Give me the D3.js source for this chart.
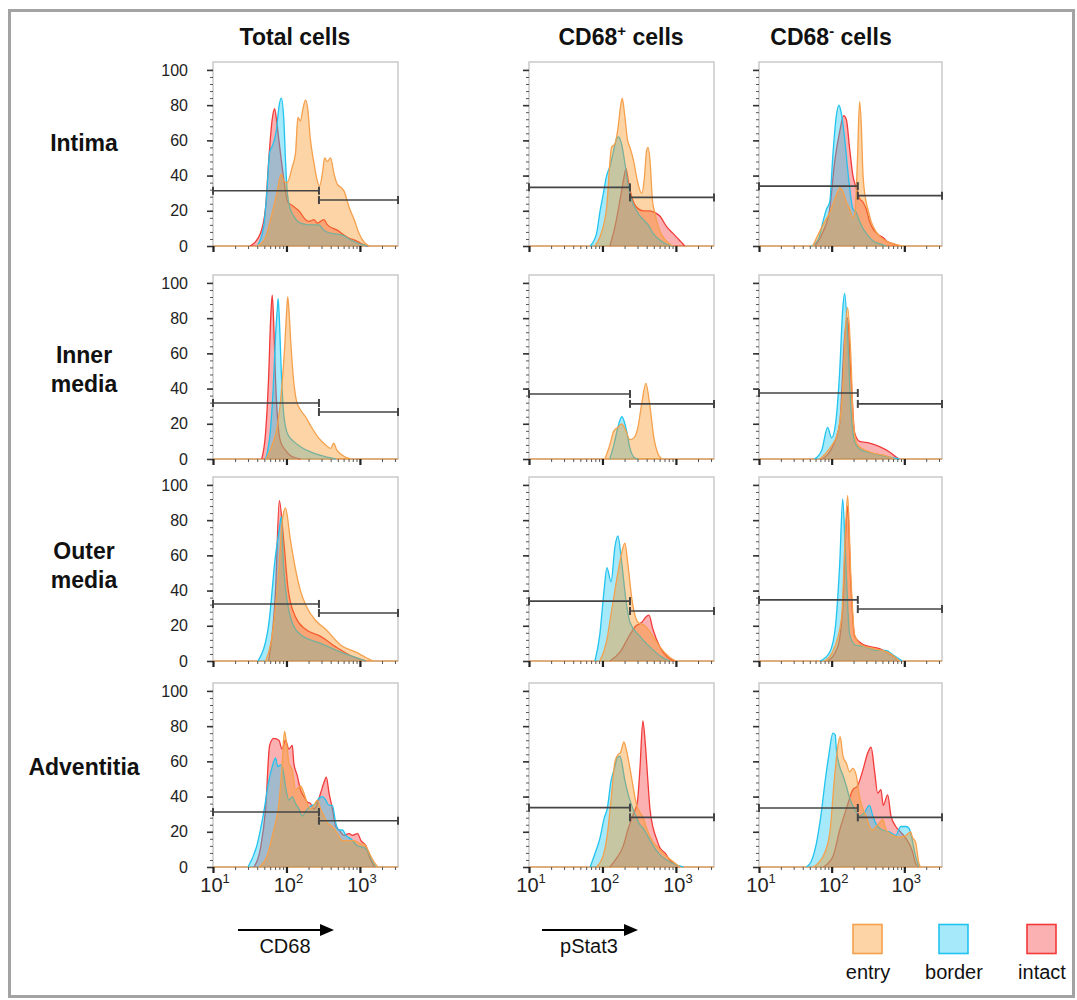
<!DOCTYPE html>
<html>
<head>
<meta charset="utf-8">
<script src="https://cdn.jsdelivr.net/npm/d3@7"></script>
<style>
  body { margin: 0; background: #fff; }
  svg { font-family: "Liberation Sans", Arial, sans-serif; }
</style>
</head>
<body>
<svg id="chart" width="1077" height="1000"></svg>
<script>
// each series: [fluorescence intensity, % of max]
// row 1 - Intima
const intimaTotalEntry = [[40,0],[52,5],[64,19],[74,30],[85,41],[92,37],[102,36],[120,45],[133,53],[143,73],[155,71],[166,77],[182,83],[196,77],[210,62],[237,47],[263,37],[282,34],[308,41],[331,50],[361,48],[398,50],[444,41],[494,35],[561,33],[610,31],[713,22],[835,15],[977,7],[1148,2],[1343,0]];
const intimaTotalBorder = [[40,0],[49,11],[54,30],[59,53],[66,58],[73,66],[79,79],[85,84],[92,72],[97,49],[102,32],[111,22],[126,17],[155,13],[210,12],[275,12],[324,9],[427,7],[550,6.5],[759,3.4],[1030,1],[1274,0]];
const intimaTotalIntact = [[32,0],[44,7],[52,22],[57,47],[64,72],[69,78],[74,70],[79,60],[92,38],[104,25],[120,23],[155,19],[173,16],[202,14],[237,15],[263,13],[324,15],[361,12],[490,9],[676,5],[933,2.5],[1150,0.5],[1300,0]];

const intimaPosEntry = [[79,0],[92,5],[114,22],[133,56],[148,58],[164,68],[176,79],[186,84],[200,75],[220,60],[237,56],[263,49],[299,37],[341,30],[373,39],[398,54],[418,56],[443,49],[479,26],[516,19],[575,11],[671,5],[828,1],[919,0]];
const intimaPosBorder = [[68,0],[83,7],[92,19],[103,30],[114,40],[126,45],[140,53],[156,61],[167,62],[182,58],[202,47],[225,34],[250,26],[292,20],[324,17],[359,15],[420,12],[491,7],[604,3.4],[746,1],[919,0]];
const intimaPosIntact = [[126,0],[148,11],[173,26],[196,39],[209,44],[225,37],[250,28],[292,22],[359,20],[443,20],[516,19],[604,17],[746,11],[919,7],[1133,3],[1258,1],[1320,0]];

const intimaNegEntry = [[55,0],[76,12],[94,19],[116,29],[129,33],[143,31],[159,25],[177,21],[196,16],[209,19],[226,48],[242,82],[255,70],[269,42],[292,27],[315,21],[349,14],[410,8],[505,4],[693,1.3],[950,0]];
const intimaNegBorder = [[53,0],[66,4],[76,14],[85,21],[94,25],[104,52],[116,74],[126,80],[135,76],[151,61],[162,48],[177,33],[196,21],[218,19],[242,14],[269,10],[315,6],[368,3],[455,1.3],[562,0]];
const intimaNegIntact = [[59,0],[76,8],[94,21],[110,48],[129,65],[146,74],[159,72],[177,55],[196,40],[218,33],[242,27],[269,25],[299,21],[332,14],[368,10],[455,6],[505,5],[562,3],[693,1.3],[855,0]];

// row 2 - Inner media
const innerTotalEntry = [[53,0],[64,8],[76,20],[86,40],[95,65],[101,85],[104,92],[108,85],[115,65],[125,45],[137,33],[155,28],[182,24],[213,19],[274,12],[342,8],[400,6],[440,9],[485,5],[643,1],[753,0]];
const innerTotalBorder = [[52,0],[60,15],[66,40],[71,70],[75,85],[77,91],[80,80],[85,50],[92,25],[104,14],[125,10],[155,7],[213,4],[292,2],[468,0]];
const innerTotalIntact = [[46,0],[52,15],[57,45],[61,80],[64,93],[67,78],[71,45],[76,22],[83,10],[97,5],[113,2],[155,0]];

const innerPosEntry = [[108,0],[126,8],[143,16],[162,18],[184,20],[208,16],[237,11],[268,12],[304,18],[344,32],[390,43],[443,30],[501,12],[569,3],[645,0]];
const innerPosBorder = [[126,0],[143,8],[162,18],[184,24],[208,18],[237,6],[268,1],[304,0]];
const innerPosIntact = [];

const innerNegEntry = [[69,0],[94,6],[121,15],[142,40],[155,75],[166,86],[183,60],[200,20],[227,8],[331,4],[532,2],[729,0]];
const innerNegBorder = [[58,0],[73,5],[88,18],[100,12],[113,20],[129,50],[142,85],[151,94],[166,70],[183,30],[207,10],[258,5],[389,3],[624,1],[853,0]];
const innerNegIntact = [[73,0],[100,6],[129,20],[151,70],[166,80],[183,50],[207,15],[242,10],[331,9],[455,7],[624,4],[778,1],[853,0]];

// row 3 - Outer media
const outerTotalEntry = [[52,0],[64,15],[78,50],[88,80],[97,87],[113,69],[133,52],[155,40],[182,32],[250,23],[342,18],[549,9],[881,5],[1206,2],[1513,0]];
const outerTotalBorder = [[41,0],[57,20],[71,60],[80,75],[85,82],[91,55],[113,25],[155,15],[292,10],[549,5],[1033,1],[1206,0]];
const outerTotalIntact = [[57,0],[71,40],[80,91],[91,70],[106,40],[133,25],[182,18],[292,14],[470,8],[753,3],[1206,0]];

const outerPosEntry = [[92,0],[112,10],[135,30],[162,50],[184,62],[202,67],[222,55],[252,35],[304,22],[378,20],[471,15],[604,8],[828,2],[1000,0]];
const outerPosBorder = [[79,0],[92,15],[105,40],[115,53],[131,45],[148,65],[162,71],[184,55],[208,35],[237,22],[324,14],[443,8],[604,3],[828,0]];
const outerPosIntact = [[126,0],[173,5],[237,15],[286,20],[344,22],[390,25],[429,26],[486,18],[604,8],[776,2],[969,0]];

const outerNegEntry = [[80,0],[110,8],[137,25],[155,75],[166,94],[183,50],[207,15],[258,9],[389,7],[585,5],[753,2],[853,0]];
const outerNegBorder = [[69,0],[94,5],[113,20],[129,55],[142,92],[155,60],[177,15],[213,9],[292,8],[400,6],[549,6],[729,3],[940,0]];
const outerNegIntact = [[88,0],[121,8],[142,30],[155,70],[166,88],[183,45],[207,14],[283,9],[455,7],[685,3],[853,0]];

// row 4 - Adventitia
const adventTotalEntry = [[42,0],[54,6],[67,21],[79,36],[87,57],[94,77],[100,71],[108,59],[120,55],[133,44],[155,46],[173,42],[192,36],[213,33],[237,35],[263,38],[292,33],[324,29],[361,25],[422,23],[494,19],[579,15],[677,15],[836,15],[1033,13],[1148,13],[1274,10],[1415,6],[1604,2],[1746,0]];
const adventTotalBorder = [[30,0],[40,13],[49,31],[57,48],[64,57],[71,62],[76,57],[83,58],[90,55],[97,46],[108,38],[120,40],[133,36],[148,33],[164,29],[192,33],[224,35],[250,36],[276,39],[308,40],[343,38],[380,35],[422,35],[469,25],[521,21],[579,21],[643,18],[753,16],[929,12],[1148,11],[1274,9],[1491,3],[1656,0]];
const adventTotalIntact = [[36,0],[44,10],[52,33],[59,69],[67,73],[79,72],[87,67],[97,72],[108,67],[120,69],[126,59],[140,52],[155,44],[173,40],[192,37],[213,36],[237,33],[263,36],[292,42],[324,48],[349,51],[380,42],[422,33],[469,23],[521,21],[610,18],[713,19],[793,18],[929,19],[1033,15],[1210,12],[1343,6],[1491,2],[1572,0]];

const adventPosEntry = [[83,0],[103,7],[116,18],[133,41],[148,60],[164,64],[176,65],[196,71],[213,66],[237,56],[263,45],[292,35],[324,31],[359,28],[398,22],[491,14],[604,10],[746,6],[919,3],[1133,0]];
const adventPosBorder = [[68,0],[78,7],[92,16],[106,28],[116,33],[131,49],[148,57],[158,62],[173,63],[186,58],[200,50],[225,41],[250,35],[278,30],[324,24],[359,22],[420,17],[491,12],[604,7],[746,4],[919,2],[1258,0]];
const adventPosIntact = [[126,0],[156,5],[192,12],[225,22],[263,30],[299,37],[324,56],[355,83],[383,70],[412,51],[443,33],[491,22],[545,16],[604,11],[709,8],[828,4],[1019,1],[1133,0]];

const adventNegEntry = [[55,0],[76,6],[94,19],[110,52],[122,69],[131,74],[143,63],[159,59],[177,54],[196,56],[218,52],[242,40],[269,33],[299,29],[332,23],[368,21],[410,23],[455,25],[505,27],[562,21],[693,18],[855,17],[1056,18],[1222,20],[1290,17],[1432,14],[1590,2],[1670,0]];
const adventNegBorder = [[45,0],[52,3],[62,14],[71,29],[82,50],[91,63],[104,76],[112,75],[116,67],[129,57],[143,52],[159,46],[177,39],[207,33],[242,29],[283,31],[332,35],[368,29],[430,23],[505,21],[620,20],[762,18],[895,23],[1056,23],[1159,22],[1290,15],[1432,6],[1590,0]];
const adventNegIntact = [[76,0],[104,6],[129,21],[159,33],[196,44],[226,46],[269,55],[315,65],[349,68],[388,55],[430,42],[477,44],[512,35],[590,41],[655,29],[762,23],[930,19],[1100,15],[1290,9],[1432,2],[1590,0]];

// gates: split point per column, gate heights per row/column
const gateSplit = [277, 237, 229];
const gateLeftY = [[31.4, 33.3, 34], [31.8, 36.9, 37.5], [32.4, 34, 34.7], [31.2, 33.7, 33.5]];
const gateRightY = [[26.1, 27.6, 28.6], [26.7, 31.3, 31.3], [27.3, 28.4, 29.5], [26.3, 28.2, 28.2]];

const seriesNames = ["entry", "border", "intact"];
const rowLabels = [["Intima"], ["Inner", "media"], ["Outer", "media"], ["Adventitia"]];
const colTitles = [["Total cells", "", ""], ["CD68", "+", " cells"], ["CD68", "-", " cells"]];
const yMajorTicks = [0, 20, 40, 60, 80, 100];
const yMinorTicks = d3.range(0, 104, 4);
const xMajorTicks = [10, 100, 1000];
const xTickExp = ["1", "2", "3"];
const xDomain = [10, 3300];
const yDomain = [0, 104.5];

const panelData = [
  [[intimaTotalEntry, intimaTotalBorder, intimaTotalIntact], [intimaPosEntry, intimaPosBorder, intimaPosIntact], [intimaNegEntry, intimaNegBorder, intimaNegIntact]],
  [[innerTotalEntry, innerTotalBorder, innerTotalIntact], [innerPosEntry, innerPosBorder, innerPosIntact], [innerNegEntry, innerNegBorder, innerNegIntact]],
  [[outerTotalEntry, outerTotalBorder, outerTotalIntact], [outerPosEntry, outerPosBorder, outerPosIntact], [outerNegEntry, outerNegBorder, outerNegIntact]],
  [[adventTotalEntry, adventTotalBorder, adventTotalIntact], [adventPosEntry, adventPosBorder, adventPosIntact], [adventNegEntry, adventNegBorder, adventNegIntact]]
];

// layout
const colLeft = [213, 529, 759];
const colWidth = [185, 185, 183];
const rowTop = [62, 275, 477, 683];
const boxH = 184;
const fillColor = ["#f7941e", "#1ec8f5", "#f53c3c"];
const strokeColor = ["#f5a04c", "#22c3ee", "#f23a3a"];

const svg = d3.select("#chart");

svg.append("rect")
  .attr("x", 9.5).attr("y", 10.5)
  .attr("width", 1064).attr("height", 986)
  .attr("fill", "none").attr("stroke", "#a3a3a3").attr("stroke-width", 3);

const y = d3.scaleLinear().domain(yDomain).range([boxH, 0]);

function drawGate(g, x1, x2, gy) {
  g.append("line").attr("x1", x1).attr("x2", x2).attr("y1", gy).attr("y2", gy)
    .attr("stroke", "#444").attr("stroke-width", 1.6);
  [x1, x2].forEach(xx => {
    g.append("line").attr("x1", xx).attr("x2", xx).attr("y1", gy - 4).attr("y2", gy + 4)
      .attr("stroke", "#444").attr("stroke-width", 2);
  });
}

colLeft.forEach((left, c) => {
  const boxW = colWidth[c];
  const x = d3.scaleLog().domain(xDomain).range([0, boxW]);
  const area = d3.area()
    .x(d => x(d[0])).y0(y(0)).y1(d => y(d[1]))
    .curve(d3.curveMonotoneX);
  const line = d3.line()
    .x(d => x(d[0])).y(d => y(d[1]))
    .curve(d3.curveMonotoneX);

  rowTop.forEach((top, r) => {
    const g = svg.append("g").attr("transform", "translate(" + left + "," + top + ")");

    g.append("rect").attr("width", boxW).attr("height", boxH)
      .attr("fill", "none").attr("stroke", "#cacaca").attr("stroke-width", 1.5);

    // baseline shows the outline colour along zero
    g.append("line").attr("x1", 0).attr("x2", boxW).attr("y1", y(0)).attr("y2", y(0))
      .attr("stroke", "#e0a060").attr("stroke-width", 1.5);

    // intact first, entry on top
    [2, 1, 0].forEach(i => {
      const d = panelData[r][c][i];
      if (!d.length) return;
      g.append("path").datum(d).attr("class", seriesNames[i])
        .attr("d", area).attr("fill", fillColor[i]).attr("fill-opacity", 0.4);
      g.append("path").datum(d)
        .attr("d", line).attr("fill", "none")
        .attr("stroke", strokeColor[i]).attr("stroke-width", 1.3);
    });

    // y axis
    const gyMinor = g.append("g").call(d3.axisLeft(y).tickValues(yMinorTicks).tickSize(3).tickFormat(""));
    gyMinor.select(".domain").remove();
    gyMinor.selectAll("line").attr("stroke", "#555");
    const gyMajor = g.append("g").call(d3.axisLeft(y).tickValues(yMajorTicks).tickSize(6).tickPadding(19)
      .tickFormat(c === 0 ? d3.format("d") : ""));
    gyMajor.select(".domain").remove();
    gyMajor.selectAll("line").attr("stroke", "#333").attr("stroke-width", 1.6);
    gyMajor.selectAll("text").attr("font-size", 16).attr("fill", "#222")
      .attr("font-family", "Liberation Sans, Arial, sans-serif");

    // x axis
    const gxMinor = g.append("g").attr("transform", "translate(0," + boxH + ")")
      .call(d3.axisBottom(x).tickValues(x.ticks()).tickSize(3).tickFormat(""));
    gxMinor.select(".domain").remove();
    gxMinor.selectAll("line").attr("stroke", "#555");
    const gxMajor = g.append("g").attr("transform", "translate(0," + boxH + ")")
      .call(d3.axisBottom(x).tickValues(xMajorTicks).tickSize(6).tickFormat(""));
    gxMajor.select(".domain").remove();
    gxMajor.selectAll("line").attr("stroke", "#222").attr("stroke-width", 2.2);

    if (r === rowTop.length - 1) {
      xMajorTicks.forEach((v, k) => {
        const t = g.append("text").attr("x", x(v) + 2).attr("y", boxH + 25)
          .attr("text-anchor", "middle").attr("font-size", 20).attr("fill", "#222");
        t.append("tspan").text("10");
        t.append("tspan").attr("font-size", 13).attr("dy", -9).text(xTickExp[k]);
      });
    }

    // gates
    const split = x(gateSplit[c]);
    drawGate(g, x(xDomain[0]), split, y(gateLeftY[r][c]));
    drawGate(g, split, x(xDomain[1]), y(gateRightY[r][c]));
  });
});

// column titles
const colTitleX = [295, 621, 831];
colTitles.forEach((t, c) => {
  const txt = svg.append("text").attr("x", colTitleX[c]).attr("y", 45)
    .attr("text-anchor", "middle").attr("font-size", 23).attr("font-weight", "bold").attr("fill", "#111");
  txt.append("tspan").text(t[0]);
  if (t[1]) {
    txt.append("tspan").attr("font-size", 15).attr("dy", -9).text(t[1]);
    txt.append("tspan").attr("dy", 9).text(t[2]);
  }
});

// row labels
const rowLabelY = [151, 363, 559, 775];
rowLabels.forEach((lines, r) => {
  lines.forEach((s, k) => {
    svg.append("text").attr("x", 84).attr("y", rowLabelY[r] + k * 29)
      .attr("text-anchor", "middle").attr("font-size", 23).attr("font-weight", "bold")
      .attr("fill", "#111").text(s);
  });
});

// parameter arrows
const arrows = [{x1: 238, x2: 334, label: "CD68", lx: 285}, {x1: 542, x2: 638, label: "pStat3", lx: 589}];
arrows.forEach(a => {
  svg.append("line").attr("x1", a.x1).attr("x2", a.x2 - 12).attr("y1", 930).attr("y2", 930)
    .attr("stroke", "#000").attr("stroke-width", 2);
  svg.append("path")
    .attr("d", "M" + (a.x2 - 14) + ",924 L" + a.x2 + ",930 L" + (a.x2 - 14) + ",936 Z")
    .attr("fill", "#000");
  svg.append("text").attr("x", a.lx).attr("y", 953).attr("text-anchor", "middle")
    .attr("font-size", 20).attr("fill", "#111").text(a.label);
});

// legend
const legendX = [853, 939, 1027];
seriesNames.forEach((name, i) => {
  svg.append("rect").attr("x", legendX[i]).attr("y", 924.5).attr("width", 29).attr("height", 29)
    .attr("fill", fillColor[i]).attr("fill-opacity", 0.4)
    .attr("stroke", strokeColor[i]).attr("stroke-width", 1.6);
  svg.append("text").attr("x", legendX[i] + 15).attr("y", 979).attr("text-anchor", "middle")
    .attr("font-size", 20).attr("fill", "#111").text(name);
});
</script>
</body>
</html>
